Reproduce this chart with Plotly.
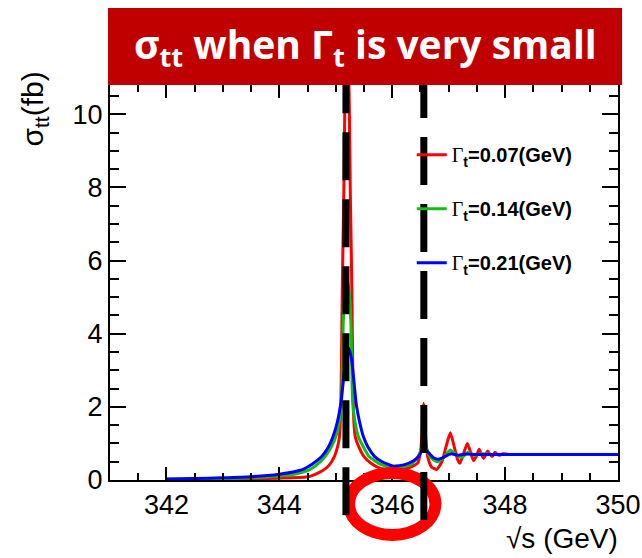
import plotly.graph_objects as go

# ---- data ----
widths = ["0.07", "0.14", "0.21"]
colors = ["#ff0000", "#10c010", "#0000ff"]

red_x = [342.0, 342.5, 343.0, 343.5, 344.0, 344.48, 344.58, 344.7, 344.78, 344.88, 344.975, 345.03, 345.065,
         345.08, 345.09, 345.103, 345.115, 345.126, 345.144, 345.162, 345.2, 345.238, 345.256, 345.274, 345.285,
         345.297, 345.31, 345.32, 345.345, 345.41, 345.5, 345.63, 345.77, 345.87, 345.97, 346.12, 346.27, 346.39,
         346.45, 346.5, 346.525, 346.54, 346.556, 346.575, 346.595, 346.635, 346.7, 346.79, 346.88, 346.96,
         347.03, 347.1, 347.16, 347.2, 347.26, 347.33, 347.39, 347.44, 347.49, 347.54, 347.58, 347.62, 347.66,
         347.69, 347.73, 347.77, 347.8, 347.82, 347.86, 347.91, 347.96, 348.06, 349.0, 350.0]
red_y = [0.01, 0.02, 0.02, 0.03, 0.05, 0.08, 0.12, 0.2, 0.27, 0.4, 0.64, 0.9, 1.18,
         1.6, 2.1, 3.5, 5.19, 6.28, 8.0, 10.4, 12.5, 10.4, 8.0, 6.28, 5.19,
         3.5, 2.1, 1.6, 1.18, 0.9, 0.64, 0.45, 0.33, 0.29, 0.27, 0.28, 0.32, 0.4,
         0.46, 0.75, 1.2, 1.7, 2.1, 1.7, 1.1, 0.6, 0.35, 0.29, 0.5, 0.95,
         1.29, 0.9, 0.55, 0.46, 0.7, 1.0, 0.75, 0.53, 0.65, 0.84, 0.7, 0.59, 0.7,
         0.79, 0.7, 0.64, 0.7, 0.76, 0.7, 0.68, 0.72, 0.70, 0.70, 0.70]

green_x = [342.0, 342.5, 343.0, 343.5, 344.0, 344.24, 344.52, 344.67, 344.81, 344.92, 345.0, 345.06, 345.1,
           345.115, 345.13, 345.155, 345.2, 345.245, 345.27, 345.285, 345.3, 345.34, 345.4, 345.49, 345.59,
           345.77, 345.97, 346.17, 346.32, 346.42, 346.49, 346.525, 346.56, 346.6, 346.66, 346.76, 346.82,
           346.91, 347.03, 347.14, 347.24, 347.34, 347.46, 347.56, 347.76, 348.5, 350.0]
green_y = [0.02, 0.03, 0.04, 0.06, 0.11, 0.15, 0.27, 0.42, 0.64, 0.9, 1.18, 1.6, 2.1,
           3.0, 4.2, 5.0, 5.5, 5.0, 4.2, 3.0, 2.1, 1.6, 1.18, 0.9, 0.64,
           0.45, 0.34, 0.36, 0.42, 0.55, 0.75, 0.9, 1.09, 0.9, 0.65, 0.52, 0.50,
           0.62, 0.82, 0.68, 0.62, 0.75, 0.68, 0.72, 0.70, 0.70, 0.70]

blue_x = [342.0, 342.5, 343.0, 343.5, 344.0, 344.24, 344.43, 344.58, 344.75, 344.87, 344.95, 345.03, 345.09,
          345.13, 345.18, 345.23, 345.28, 345.325, 345.36, 345.42, 345.49, 345.57, 345.69, 345.82, 346.02,
          346.22, 346.37, 346.47, 346.56, 346.66, 346.74, 346.82, 346.91, 347.04, 347.16, 347.31, 347.46,
          348.5, 350.0]
blue_y = [0.03, 0.04, 0.06, 0.09, 0.16, 0.22, 0.3, 0.43, 0.64, 0.9, 1.18, 1.6, 2.1,
          2.65, 3.3, 3.6, 3.3, 2.65, 2.1, 1.6, 1.18, 0.9, 0.64, 0.5, 0.38,
          0.42, 0.52, 0.65, 0.87, 0.72, 0.6, 0.57, 0.62, 0.72, 0.68, 0.71, 0.70,
          0.70, 0.70]

peak_lines = [345.18, 346.56]          # positions of the dashed markers (GeV)
x_ticks = [342, 344, 346, 348, 350]
y_ticks = [0, 2, 4, 6, 8, 10]
x_range = [341, 350]
y_range = [0, 10.8]
circled_tick = 346

series = [(red_x, red_y), (green_x, green_y), (blue_x, blue_y)]

SANS = "Liberation Sans, Arial, Helvetica, sans-serif"

fig = go.Figure()
for i, ((xs, ys), w, c) in enumerate(zip(series, widths, colors)):
    fig.add_trace(go.Scatter(
        x=xs, y=ys, mode="lines",
        line=dict(color=c, width=3, shape="spline", smoothing=0.5),
        name='<span style="font-family:Liberation Serif;font-weight:normal">Γ</span><sub>t</sub>=' + w + "(GeV)",
        legendgroup="g%d" % i,
    ))

axis_common = dict(
    showline=True, linecolor="black", linewidth=2, mirror="allticks",
    ticks="inside", tickcolor="black", tickwidth=2,
    showgrid=False, zeroline=False, automargin=False,
    tickfont=dict(family=SANS, size=27, color="black"),
)
fig.update_xaxes(range=x_range, tickvals=x_ticks, ticklen=13,
                 minor=dict(dtick=0.5, tick0=341, ticks="inside", ticklen=7, tickwidth=1.5, tickcolor="black"),
                 **axis_common)
fig.update_yaxes(range=y_range, tickvals=y_ticks, ticklen=16,
                 minor=dict(dtick=0.5, tick0=0, ticks="inside", ticklen=9, tickwidth=1.5, tickcolor="black"),
                 **axis_common)

shapes = []
# red ellipse around the 346 tick label
xr = x_range[1] - x_range[0]
cx = (circled_tick - x_range[0]) / xr
shapes.append(dict(type="circle", xref="paper", yref="paper",
                   x0=cx - 0.085, x1=cx + 0.085, y0=-0.139, y1=0.018,
                   line=dict(color="#ff0000", width=12), layer="above"))
# dashed black markers
bottoms = [-0.089, -0.101]
for xv, yb in zip(peak_lines, bottoms):
    shapes.append(dict(type="line", xref="x", yref="paper", x0=xv, x1=xv, y0=yb, y1=1.0,
                       line=dict(color="black", width=7, dash="48px,19px"), layer="above"))
# title banner
shapes.append(dict(type="rect", xref="paper", yref="paper", x0=-0.004, x1=1.008, y0=1.0, y1=1.195,
                   fillcolor="#c00000", line=dict(width=0), layer="above"))

annotations = [
    dict(text="σ<sub>tt</sub> when Γ<sub>t</sub> is very small", xref="paper", yref="paper",
         x=0.502, y=1.0975, xanchor="center", yanchor="middle", showarrow=False,
         font=dict(family="Open Sans", size=39, color="white", weight="bold")),
    dict(text="√s (GeV)", xref="paper", yref="paper", x=1.004, y=-0.147,
         xanchor="right", yanchor="middle", showarrow=False,
         font=dict(family=SANS, size=28, color="black")),
    dict(text="σ<sub>tt</sub>(fb)", xref="paper", yref="paper", x=-0.148, y=0.94,
         xanchor="center", yanchor="middle", textangle=-90, showarrow=False,
         font=dict(family=SANS, size=30, color="black")),
]

fig.update_layout(
    width=642, height=558,
    margin=dict(l=110, r=24, t=85, b=78),
    paper_bgcolor="white", plot_bgcolor="white",
    shapes=shapes, annotations=annotations,
    showlegend=True,
    legend=dict(x=0.594, y=0.873, xanchor="left", yanchor="top", bgcolor="rgba(0,0,0,0)",
                borderwidth=0, tracegroupgap=25,
                font=dict(family=SANS, size=20, color="black", weight="bold")),
)

fig.write_html("out.html", config={"displayModeBar": False},
               post_script="document.body.style.margin='0';document.body.style.padding='0';"
                           "document.body.style.overflow='hidden';")
